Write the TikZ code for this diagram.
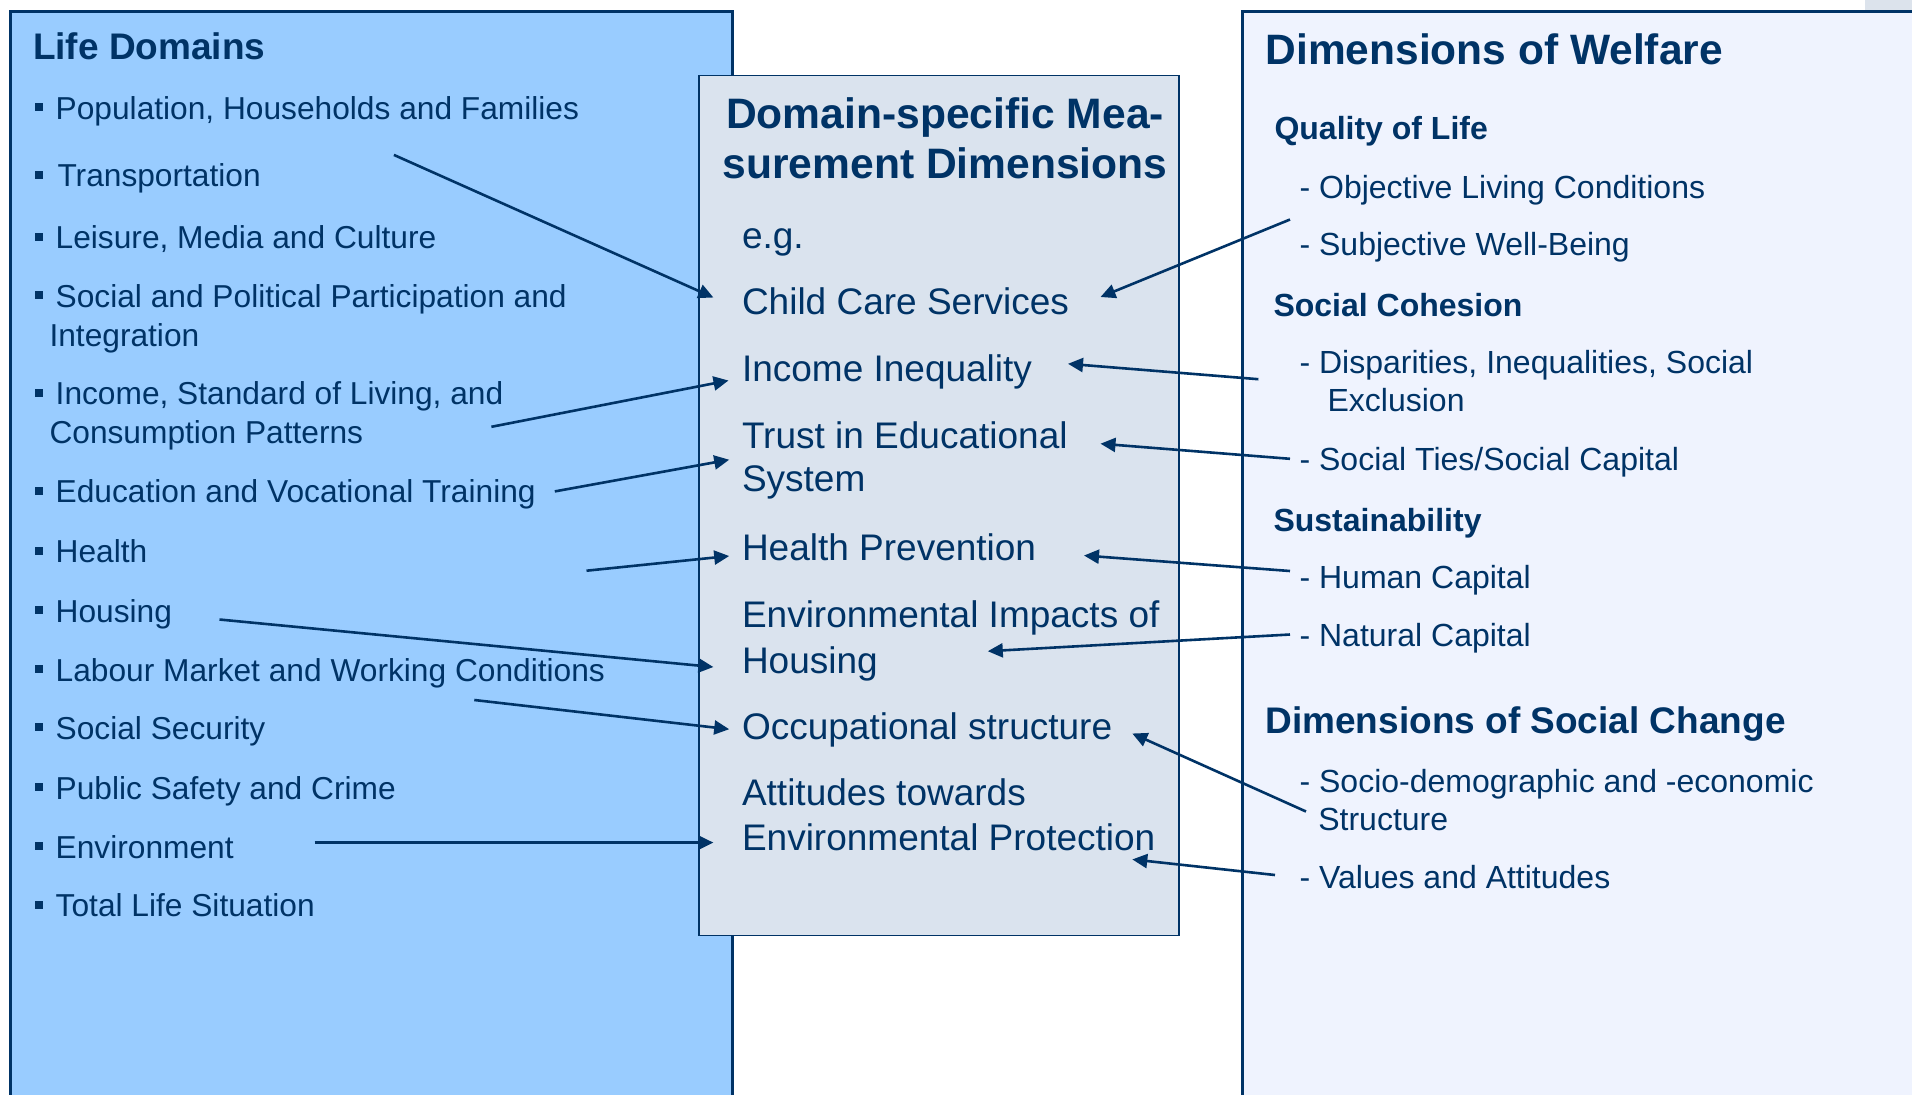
\documentclass[tikz,border=0pt]{standalone}
\usepackage{fontspec}
\setmainfont{Liberation Sans}
\usetikzlibrary{arrows.meta}
\definecolor{navy}{HTML}{003366}
\definecolor{lifefill}{HTML}{99CCFF}
\definecolor{midfill}{HTML}{DAE3EE}
\definecolor{welfill}{HTML}{EFF3FE}
\definecolor{fragfill}{HTML}{DCE3EC}
% two-line text block whose reference point is the first baseline
\newcommand\twoln[5]{\vtop{\baselineskip=#1\relax\hbox{\kern#2\relax #3}\hbox{\kern#4\relax #5}}}
\newcommand\ctwoln[3]{\vtop{\baselineskip=#1\relax\hbox to 0pt{\hss #2\hss}\hbox to 0pt{\hss #3\hss}}}
\begin{document}
\begin{tikzpicture}[x=0.5pt,y=-0.5pt,
  every node/.style={inner sep=0pt,outer sep=0pt,text=navy},
  litem/.style={anchor=base west,font=\fontsize{15.85pt}{19.5pt}\selectfont},
  lhead/.style={anchor=base west,font=\fontsize{18.5pt}{22pt}\selectfont\bfseries},
  mitem/.style={anchor=base west,font=\fontsize{18.5pt}{22.5pt}\selectfont},
  mhead/.style={anchor=base,font=\fontsize{21.3pt}{25pt}\selectfont\bfseries},
  ritem/.style={anchor=base west,font=\fontsize{16pt}{19pt}\selectfont},
  rsub/.style={anchor=base west,font=\fontsize{16pt}{19pt}\selectfont\bfseries},
  rhead/.style={anchor=base west,font=\fontsize{21.25pt}{25pt}\selectfont\bfseries},
  rhead2/.style={anchor=base west,font=\fontsize{18.5pt}{22pt}\selectfont\bfseries},
  bul/.style={rectangle,fill=navy,minimum size=4pt},
  arr/.style={draw=navy,line width=1.3pt,-{Triangle[length=7.5pt,width=7pt]}},
  lifebox/.style={draw=navy,line width=1.5pt,fill=lifefill},
  midbox/.style={draw=navy,line width=0.9pt,fill=midfill},
  welbox/.style={draw=navy,line width=1.5pt,fill=welfill}]
\useasboundingbox (0,0) rectangle (1912,1094);
\clip (0,0) rectangle (1912,1094);
\fill[white] (0,0) rectangle (1912,1094);

% boxes
\draw[lifebox] (10.5,11.5) rectangle (732.5,1120);
\draw[welbox] (1242.5,11.5) rectangle (1940,1120);
\fill[fragfill] (1865,0) rectangle (1912,9.5);
\draw[midbox] (698.6,75.5) rectangle (1179,935.4);

% left box
\node[lhead] (ld) at (33,59) {Life Domains};
\foreach \n/\y in {1/119,2/186.5,3/248.5,4/307,5/404.5,6/502.8,7/562.5,8/622,9/681,10/739.4,11/799,12/858,13/916.7}
  \node[bul] (b\n) at (39,\y-12) {};
\node[litem] (l1) at (55.7,119) {Population, Households and Families};
\node[litem] (l2) at (57.5,186.5) {Transportation};
\node[litem] (l3) at (55.7,248.5) {Leisure, Media and Culture};
\node[litem] (l4) at (49.5,307) {\twoln{19.5pt}{3.1pt}{Social and Political Participation and}{0pt}{Integration}};
\node[litem] (l5) at (49.5,404.5) {\twoln{19.5pt}{3.1pt}{Income, Standard of Living, and}{0pt}{Consumption Patterns}};
\node[litem] (l6) at (55.7,502.8) {Education and Vocational Training};
\node[litem] (l7) at (55.7,562.5) {Health};
\node[litem] (l8) at (55.7,622) {Housing};
\node[litem] (l9) at (55.7,681) {Labour Market and Working Conditions};
\node[litem] (l10) at (55.7,739.4) {Social Security};
\node[litem] (l11) at (55.7,799) {Public Safety and Crime};
\node[litem] (l12) at (55.7,858) {Environment};
\node[litem] (l13) at (55.7,916.7) {Total Life Situation};

% middle box
\node[mhead] (mh) at (945,128) {\ctwoln{25pt}{Domain-specific Mea-}{surement Dimensions}};
\node[mitem] (eg) at (742,248) {e.g.};
\node[mitem] (m1) at (742,314.3) {Child Care Services};
\node[mitem] (m2) at (742,381.5) {Income Inequality};
\node[mitem] (m3) at (742,448.6) {\twoln{21.5pt}{0pt}{Trust in Educational}{0pt}{System}};
\node[mitem] (m4) at (742,560) {Health Prevention};
\node[mitem] (m5) at (742,627.5) {\twoln{23pt}{0pt}{Environmental Impacts of}{0pt}{Housing}};
\node[mitem] (m6) at (742,739) {Occupational structure};
\node[mitem] (m7) at (742,805) {\twoln{22.75pt}{0pt}{Attitudes towards}{0pt}{Environmental Protection}};

% right box
\node[rhead] (dw) at (1265.5,64.5) {Dimensions of Welfare};
\node[rsub] (ql) at (1274.5,139) {Quality of Life};
\node[ritem] (r1) at (1299.6,198.2) {- Objective Living Conditions};
\node[ritem] (r2) at (1299.6,255.5) {- Subjective Well-Being};
\node[rsub] (sc) at (1273.5,316) {Social Cohesion};
\node[ritem] (r3) at (1299.6,373.7) {\twoln{19pt}{0pt}{- Disparities, Inequalities, Social}{14pt}{Exclusion}};
\node[ritem] (r4) at (1299.6,470) {- Social Ties/Social Capital};
\node[rsub] (su) at (1273.5,531) {Sustainability};
\node[ritem] (r5) at (1299.6,588) {- Human Capital};
\node[ritem] (r6) at (1299.6,646) {- Natural Capital};
\node[rhead2] (dsc) at (1265.5,733) {Dimensions of Social Change};
\node[ritem] (r7) at (1299.6,792) {\twoln{19pt}{0pt}{- Socio-demographic and -economic}{9.35pt}{Structure}};
\node[ritem] (r8) at (1299.6,888) {- Values and Attitudes};

% arrow end points
\coordinate (a1s) at (393.9,154.9);  \coordinate (a1e) at (713.4,297.5);
\coordinate (a2s) at (491.4,426.8);  \coordinate (a2e) at (728.5,380.5);
\coordinate (a3s) at (554.8,491.4);  \coordinate (a3e) at (729.2,459.7);
\coordinate (a4s) at (586.5,570.7);  \coordinate (a4e) at (729.2,556);
\coordinate (a5s) at (219.5,619.5);  \coordinate (a5e) at (713.4,667);
\coordinate (a6s) at (474.3,700);    \coordinate (a6e) at (729.2,729.2);
\coordinate (a7s) at (314.6,842.6);  \coordinate (a7e) at (713.4,842.6);
\coordinate (b1s) at (1290,219.5);   \coordinate (b1e) at (1100.5,297);
\coordinate (b2s) at (1258.4,379.2); \coordinate (b2e) at (1068,363.8);
\coordinate (b3s) at (1290,458.8);   \coordinate (b3e) at (1100.5,443.7);
\coordinate (b4s) at (1290,571);     \coordinate (b4e) at (1084,555.5);
\coordinate (b5s) at (1290,634.5);   \coordinate (b5e) at (987.8,651.2);
\coordinate (b6s) at (1306,811.5);   \coordinate (b6e) at (1132.3,733.5);
\coordinate (b7s) at (1275,875);     \coordinate (b7e) at (1132.3,859.4);

\draw[arr] (a1s) -- (a1e);
\draw[arr] (a2s) -- (a2e);
\draw[arr] (a3s) -- (a3e);
\draw[arr] (a4s) -- (a4e);
\draw[arr] (a5s) -- (a5e);
\draw[arr] (a6s) -- (a6e);
\draw[arr] (a7s) -- (a7e);
\draw[arr] (b1s) -- (b1e);
\draw[arr] (b2s) -- (b2e);
\draw[arr] (b3s) -- (b3e);
\draw[arr] (b4s) -- (b4e);
\draw[arr] (b5s) -- (b5e);
\draw[arr] (b6s) -- (b6e);
\draw[arr] (b7s) -- (b7e);
\end{tikzpicture}
\end{document}
